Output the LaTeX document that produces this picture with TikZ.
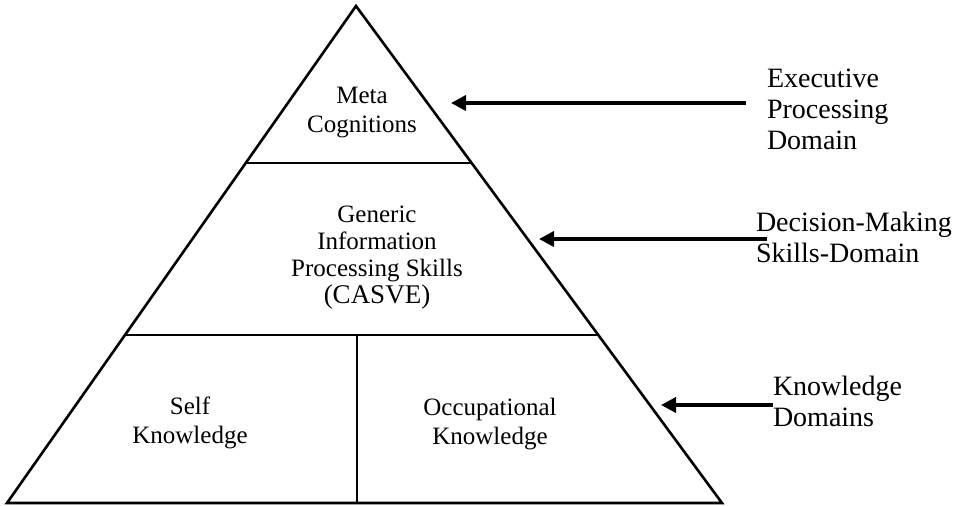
\documentclass[tikz,border=0pt]{standalone}
\usepackage{fontspec}
\setmainfont{Liberation Serif}
\usetikzlibrary{calc,positioning,arrows.meta}

\tikzset{
    inlabel/.style={align=center, font=\fontsize{25}{29}\selectfont},
    outlabel/.style={anchor=west, align=left, font=\fontsize{28}{31}\selectfont},
    pointer/.style={line width=3.6pt, -{Triangle[length=15pt,width=15pt]}}
}

\begin{document}
\begin{tikzpicture}[x=1pt,y=-1pt,line width=2.6pt, every node/.style={inner sep=0pt,outer sep=0pt}]
    \useasboundingbox (0,0) rectangle (967,506);

    % pyramid
    \coordinate (apex) at (356,6);
    \coordinate (base_l) at (7,503);
    \coordinate (base_r) at (722,503);
    \draw[line join=miter] (apex) -- (base_l) -- (base_r) -- cycle;

    % level lines
    \coordinate (top_l) at ($(apex)!0.316!(base_l)$);
    \coordinate (top_r) at ($(apex)!0.316!(base_r)$);
    \coordinate (mid_l) at ($(apex)!0.662!(base_l)$);
    \coordinate (mid_r) at ($(apex)!0.662!(base_r)$);
    \draw (top_l) -- (top_r);
    \draw (mid_l) -- (mid_r);
    \coordinate (split) at ($(mid_l)!0.49!(mid_r)$);
    \draw (split) -- (split |- base_l);

    % levels
    \node[inlabel] (meta) at (362,113) {Meta\\Cognitions};
    \node[inlabel, font=\fontsize{25}{27}\selectfont] (generic) at (377,258)
    {Generic\\Information\\Processing Skills\\{\fontsize{27}{27}\selectfont (CASVE)}};
    \node[inlabel] (self) at (190,423) {Self\\Knowledge};
    \node[inlabel] (occ) at (490,424) {Occupational\\Knowledge};

    % domains
    \node[outlabel] (exec) at (767,109) {Executive\\Processing\\Domain};
    \node[outlabel] (decision) at (756,237) {Decision-Making\\Skills-Domain};
    \node[outlabel] (know) at (773,401) {Knowledge\\Domains};

    % arrows
    \coordinate (exec_tip) at (451,103);
    \coordinate (decision_tip) at (539,239);
    \coordinate (know_tip) at (661,405);
    \draw[pointer] ($(exec.west |- exec_tip) + (-21,0)$) -- (exec_tip);
    \draw[pointer] ($(decision.west |- decision_tip) + (11,0)$) -- (decision_tip);
    \draw[pointer] (know.west |- know_tip) -- (know_tip);

\end{tikzpicture}
\end{document}
